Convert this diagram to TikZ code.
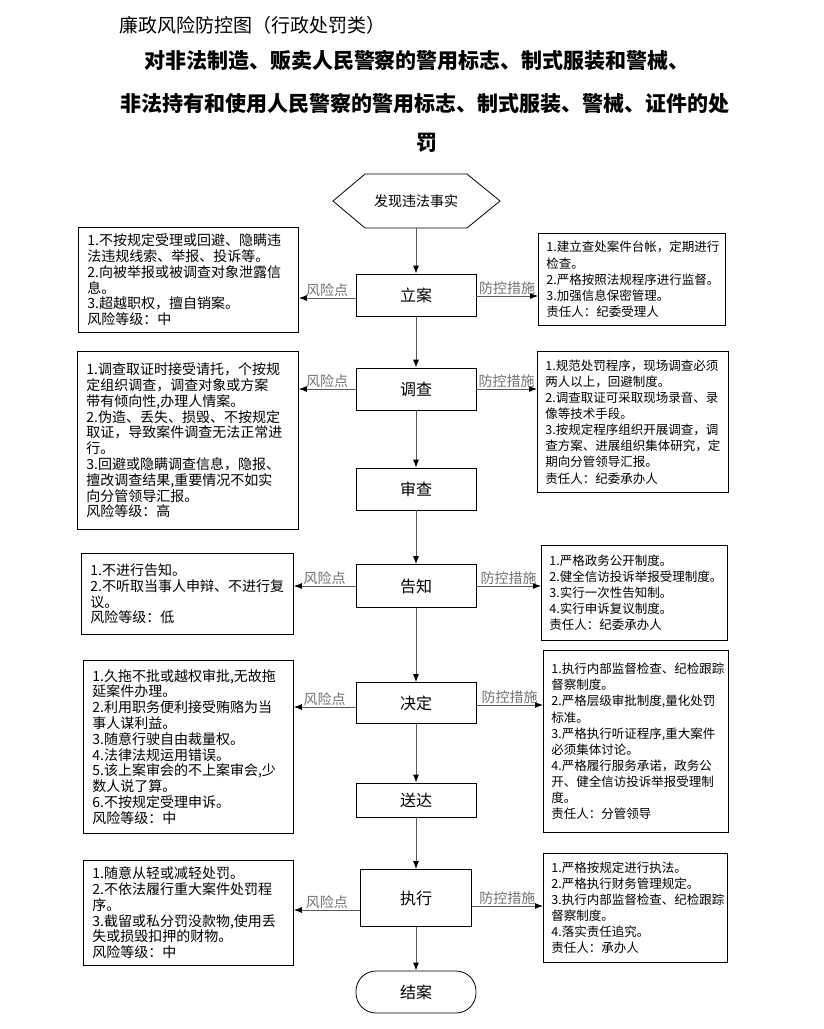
\documentclass[tikz,border=0pt]{standalone}
\usepackage{fontspec}
\setmainfont{Noto Sans CJK SC}
\usetikzlibrary{arrows.meta}

\begin{document}
\begin{tikzpicture}[x=1pt,y=-1pt,
  stepbox/.style={draw,line width=0.8pt,minimum width=120pt,minimum height=42pt,font=\fontsize{16}{18}\selectfont},
  riskbox/.style={draw,line width=0.8pt,align=left,inner sep=0pt,anchor=north west,font=\fontsize{14}{15.8}\selectfont},
  ctrlbox/.style={draw,line width=0.8pt,align=left,inner sep=0pt,anchor=north west,font=\fontsize{12.5}{16.1}\selectfont},
  lbl/.style={text=black!55,inner sep=1pt,font=\fontsize{14}{16}\selectfont},
  flow/.style={draw=black!65,line width=0.9pt,-{Latex[length=8pt,width=6pt,color=black]}}]
\path[fill=white,use as bounding box] (0,0) rectangle (823,1029);

\node[anchor=west,font=\fontsize{19}{21}\selectfont] (t1) at (116,25) {廉政风险防控图（行政处罚类）};
\node[font=\fontsize{21}{24}\selectfont\bfseries] (t2) at (417,61) {对非法制造、贩卖人民警察的警用标志、制式服装和警械、};
\node[font=\fontsize{21}{24}\selectfont\bfseries] (t3) at (425,104) {非法持有和使用人民警察的警用标志、制式服装、警械、证件的处};
\node[font=\fontsize{21}{24}\selectfont\bfseries] (t4) at (427,143) {罚};

\node[font=\fontsize{14}{16}\selectfont] (fx) at (416,201) {发现违法事实};
\draw[line width=0.8pt] (333,201) -- (365,174) -- (467,174) -- (500,201) -- (467,228) -- (365,228) -- cycle;
\coordinate (fxb) at (416,228);

\node[stepbox] (la) at (416,295) {立案};
\node[stepbox] (dc) at (416,389) {调查};
\node[stepbox] (sc) at (416,489) {审查};
\node[stepbox,minimum height=43pt] (gz) at (416,586) {告知};
\node[stepbox,minimum height=41pt] (jd) at (416,703) {决定};
\node[stepbox,minimum height=34pt] (sd) at (416,800) {送达};
\node[stepbox,minimum width=111pt,minimum height=57pt] (zx) at (416,898) {执行};
\node[stepbox,rounded corners=20pt] (ja) at (416,992) {结案};

\node[riskbox,minimum width=220pt,minimum height=105pt,text width=202pt] (r1) at (78,227)
  {1.不按规定受理或回避、隐瞒违\\法违规线索、举报、投诉等。\\2.向被举报或被调查对象泄露信\\息。\\3.超越职权，擅自销案。\\风险等级：中};
\node[riskbox,minimum width=221pt,minimum height=178pt,text width=203pt] (r2) at (77,351)
  {1.调查取证时接受请托，个按规\\定组织调查，调查对象或方案\\带有倾向性,办理人情案。\\2.伪造、丢失、损毁、不按规定\\取证，导致案件调查无法正常进\\行。\\3.回避或隐瞒调查信息，隐报、\\擅改调查结果,重要情况不如实\\向分管领导汇报。\\风险等级：高};
\node[riskbox,minimum width=212pt,minimum height=81pt,text width=194pt] (r3) at (81,553)
  {1.不进行告知。\\2.不听取当事人申辩、不进行复\\议。\\风险等级：低};
\node[riskbox,minimum width=210pt,minimum height=173pt,text width=192pt] (r4) at (83,660)
  {1.久拖不批或越权审批,无故拖\\延案件办理。\\2.利用职务便利接受贿赂为当\\事人谋利益。\\3.随意行驶自由裁量权。\\4.法律法规运用错误。\\5.该上案审会的不上案审会,少\\数人说了算。\\6.不按规定受理申诉。\\风险等级：中};
\node[riskbox,minimum width=210pt,minimum height=105pt,text width=192pt] (r5) at (83,860)
  {1.随意从轻或减轻处罚。\\2.不依法履行重大案件处罚程\\序。\\3.截留或私分罚没款物,使用丢\\失或损毁扣押的财物。\\风险等级：中};

\node[ctrlbox,minimum width=187pt,minimum height=92pt,text width=171pt] (c1) at (538,233)
  {1.建立查处案件台帐，定期进行\\检查。\\2.严格按照法规程序进行监督。\\3.加强信息保密管理。\\责任人：纪委受理人};
\node[ctrlbox,minimum width=191pt,minimum height=141pt,text width=175pt] (c2) at (537,351)
  {1.规范处罚程序，现场调查必须\\两人以上，回避制度。\\2.调查取证可采取现场录音、录\\像等技术手段。\\3.按规定程序组织开展调查，调\\查方案、进展组织集体研究，定\\期向分管领导汇报。\\责任人：纪委承办人};
\node[ctrlbox,minimum width=186pt,minimum height=95pt,text width=170pt] (c3) at (541,545)
  {1.严格政务公开制度。\\2.健全信访投诉举报受理制度。\\3.实行一次性告知制。\\4.实行申诉复议制度。\\责任人：纪委承办人};
\node[ctrlbox,minimum width=185pt,minimum height=182pt,text width=169pt] (c4) at (543,650)
  {1.执行内部监督检查、纪检跟踪\\督察制度。\\2.严格层级审批制度,量化处罚\\标准。\\3.严格执行听证程序,重大案件\\必须集体讨论。\\4.严格履行服务承诺，政务公\\开、健全信访投诉举报受理制\\度。\\责任人：分管领导};
\node[ctrlbox,minimum width=184pt,minimum height=109pt,text width=168pt] (c5) at (543,853)
  {1.严格按规定进行执法。\\2.严格执行财务管理规定。\\3.执行内部监督检查、纪检跟踪\\督察制度。\\4.落实责任追究。\\责任人：承办人};

\draw[flow] (fxb) -- (la);
\draw[flow] (la) -- (dc);
\draw[flow] (dc) -- (sc);
\draw[flow] (sc) -- (gz);
\draw[flow] (gz) -- (jd);
\draw[flow] (jd) -- (sd);
\draw[flow] (sd) -- (zx);
\draw[flow] (zx) -- (ja);

\draw[flow] ([yshift=-3pt]la.west) -- ([yshift=-3pt]la.west -| r1.east) node[lbl,midway,above] {风险点};
\draw[flow] ([yshift=-1pt]la.east) -- ([yshift=-1pt]la.east -| c1.west) node[lbl,midway,above] {防控措施};
\draw[flow] (dc.west) -- (dc.west -| r2.east) node[lbl,midway,above] {风险点};
\draw[flow] (dc.east) -- (dc.east -| c2.west) node[lbl,midway,above] {防控措施};
\draw[flow] (gz.west) -- (gz.west -| r3.east) node[lbl,midway,above] {风险点};
\draw[flow] (gz.east) -- (gz.east -| c3.west) node[lbl,midway,above] {防控措施};
\draw[flow] ([yshift=-4pt]jd.west) -- ([yshift=-4pt]jd.west -| r4.east) node[lbl,midway,above] {风险点};
\draw[flow] ([yshift=-2pt]jd.east) -- ([yshift=-2pt]jd.east -| c4.west) node[lbl,midway,above] {防控措施};
\draw[flow] ([yshift=-12pt]zx.west) -- ([yshift=-12pt]zx.west -| r5.east) node[lbl,midway,above] {风险点};
\draw[flow] ([yshift=-8pt]zx.east) -- ([yshift=-8pt]zx.east -| c5.west) node[lbl,midway,above] {防控措施};
\end{tikzpicture}
\end{document}
